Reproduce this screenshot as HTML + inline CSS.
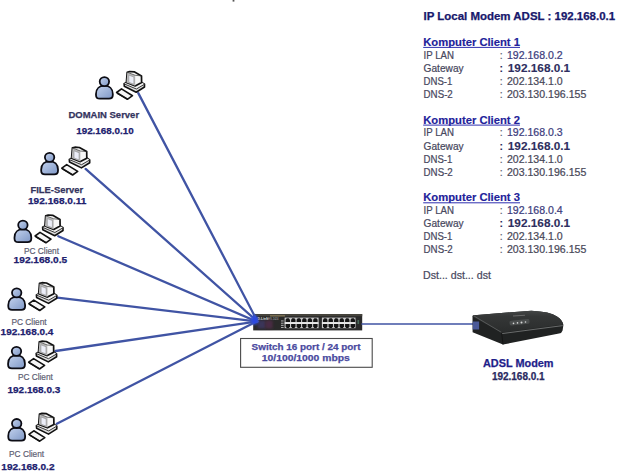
<!DOCTYPE html>
<html><head><meta charset="utf-8">
<style>
html,body{margin:0;padding:0;background:#fff;width:617px;height:474px;overflow:hidden}
svg{display:block}
text{font-family:"Liberation Sans",sans-serif}
</style></head><body>
<svg width="617" height="474" viewBox="0 0 617 474">
<defs>
<filter id="bl" x="-50%" y="-50%" width="200%" height="200%"><feGaussianBlur stdDeviation="1.2"/></filter>
<linearGradient id="pg" x1="0" y1="0" x2="1" y2="1">
<stop offset="0" stop-color="#c4d3ee"/><stop offset="1" stop-color="#7e97c6"/>
</linearGradient>
<linearGradient id="mt" x1="0" y1="0" x2="0" y2="1">
<stop offset="0" stop-color="#444646"/><stop offset="0.25" stop-color="#353737"/><stop offset="1" stop-color="#2a2c2c"/>
</linearGradient>
<g id="ic">
<path d="M0.4,22.2 C0.4,17 4,13.9 8.8,13.9 C13.6,13.9 17.2,17 17.2,22.2 L17.2,23.4 Q17.2,27 13.4,27 L4.2,27 Q0.4,27 0.4,23.4 Z" fill="url(#pg)" stroke="#0c0c14" stroke-width="1.8"/>
<ellipse cx="8.8" cy="9.9" rx="4.7" ry="4.5" fill="url(#pg)" stroke="#0c0c14" stroke-width="1.8"/>
<path d="M21,20.8 L25.9,17.2 L36.9,24 L31.8,27.6 Z" fill="#f6f6f6" stroke="#111" stroke-width="1.6" stroke-linejoin="round"/>
<path d="M21.7,21.7 L31.7,27.4" stroke="#111" stroke-width="1.1"/>
<path d="M28.5,12 L30.8,10.8 L46,10.6 L48.9,12.5 L48.9,15.3 L40.6,20.5 L28.7,14.6 Z" fill="#dcdcdc" stroke="#111" stroke-width="1.6" stroke-linejoin="round"/>
<path d="M28.6,12.1 L30.8,10.8 L39.6,14.2 L46,10.6 L48.8,12.5 L40.8,17.2 Z" fill="#f4f4f4"/>
<path d="M28.6,12.2 L40.8,17.3 L48.8,12.6" fill="none" stroke="#222" stroke-width="0.9"/>
<path d="M31.6,0.5 L34.1,-0.2 L38.6,0.1 L45.9,4.2 L46,10.8 L39.6,14.2 L30.8,10.8 Z" fill="#f7f7f7" stroke="#111" stroke-width="1.7" stroke-linejoin="round"/>
<path d="M31.7,0.8 L39.6,3.7 L39.6,14 L30.9,10.7 Z" fill="#b9b9b9"/>
<path d="M33.2,3.4 L38.3,5.3 L38.3,12.5 L33.2,10.6 Z" fill="#eceef8" stroke="#8c8c8c" stroke-width="0.6"/>
<path d="M31.8,0.6 L39.6,3.6 L45.8,4.2" fill="none" stroke="#333" stroke-width="0.7"/>
</g>
</defs>

<g>
<rect x="253.2" y="314" width="109" height="16.4" fill="#2a2a2a"/>
<rect x="253.2" y="314" width="109" height="2.2" fill="#45433c"/>
<rect x="270" y="315.4" width="15" height="1" fill="#9a8a60"/>
<rect x="284.6" y="317.6" width="34" height="10.6" fill="#c9c9c9"/>
<rect x="321.9" y="317.6" width="33.6" height="10.6" fill="#c9c9c9"/>
<rect x="284.6" y="322.4" width="34" height="1.4" fill="#f0f0f0"/>
<rect x="321.9" y="322.4" width="33.6" height="1.4" fill="#f0f0f0"/>
<g fill="#151515">
<path d="M286.70,318.20 L288.90,318.20 L290.00,319.70 L290.00,322.10 L285.60,322.10 L285.60,319.70 Z"/>
<path d="M285.60,324.10 L290.00,324.10 L290.00,326.50 L288.90,327.90 L286.70,327.90 L285.60,326.50 Z"/>
<path d="M292.22,318.20 L294.42,318.20 L295.52,319.70 L295.52,322.10 L291.12,322.10 L291.12,319.70 Z"/>
<path d="M291.12,324.10 L295.52,324.10 L295.52,326.50 L294.42,327.90 L292.22,327.90 L291.12,326.50 Z"/>
<path d="M297.74,318.20 L299.94,318.20 L301.04,319.70 L301.04,322.10 L296.64,322.10 L296.64,319.70 Z"/>
<path d="M296.64,324.10 L301.04,324.10 L301.04,326.50 L299.94,327.90 L297.74,327.90 L296.64,326.50 Z"/>
<path d="M303.26,318.20 L305.46,318.20 L306.56,319.70 L306.56,322.10 L302.16,322.10 L302.16,319.70 Z"/>
<path d="M302.16,324.10 L306.56,324.10 L306.56,326.50 L305.46,327.90 L303.26,327.90 L302.16,326.50 Z"/>
<path d="M308.78,318.20 L310.98,318.20 L312.08,319.70 L312.08,322.10 L307.68,322.10 L307.68,319.70 Z"/>
<path d="M307.68,324.10 L312.08,324.10 L312.08,326.50 L310.98,327.90 L308.78,327.90 L307.68,326.50 Z"/>
<path d="M314.30,318.20 L316.50,318.20 L317.60,319.70 L317.60,322.10 L313.20,322.10 L313.20,319.70 Z"/>
<path d="M313.20,324.10 L317.60,324.10 L317.60,326.50 L316.50,327.90 L314.30,327.90 L313.20,326.50 Z"/>
<path d="M324.10,318.20 L326.30,318.20 L327.40,319.70 L327.40,322.10 L323.00,322.10 L323.00,319.70 Z"/>
<path d="M323.00,324.10 L327.40,324.10 L327.40,326.50 L326.30,327.90 L324.10,327.90 L323.00,326.50 Z"/>
<path d="M329.62,318.20 L331.82,318.20 L332.92,319.70 L332.92,322.10 L328.52,322.10 L328.52,319.70 Z"/>
<path d="M328.52,324.10 L332.92,324.10 L332.92,326.50 L331.82,327.90 L329.62,327.90 L328.52,326.50 Z"/>
<path d="M335.14,318.20 L337.34,318.20 L338.44,319.70 L338.44,322.10 L334.04,322.10 L334.04,319.70 Z"/>
<path d="M334.04,324.10 L338.44,324.10 L338.44,326.50 L337.34,327.90 L335.14,327.90 L334.04,326.50 Z"/>
<path d="M340.66,318.20 L342.86,318.20 L343.96,319.70 L343.96,322.10 L339.56,322.10 L339.56,319.70 Z"/>
<path d="M339.56,324.10 L343.96,324.10 L343.96,326.50 L342.86,327.90 L340.66,327.90 L339.56,326.50 Z"/>
<path d="M346.18,318.20 L348.38,318.20 L349.48,319.70 L349.48,322.10 L345.08,322.10 L345.08,319.70 Z"/>
<path d="M345.08,324.10 L349.48,324.10 L349.48,326.50 L348.38,327.90 L346.18,327.90 L345.08,326.50 Z"/>
<path d="M351.70,318.20 L353.90,318.20 L355.00,319.70 L355.00,322.10 L350.60,322.10 L350.60,319.70 Z"/>
<path d="M350.60,324.10 L355.00,324.10 L355.00,326.50 L353.90,327.90 L351.70,327.90 L350.60,326.50 Z"/>
</g>
<g fill="#e6e6e6"><rect x="281" y="320.6" width="2.6" height="0.7"/><rect x="281" y="322.8" width="2.6" height="0.7"/><rect x="281" y="324.9" width="2.6" height="0.7"/><rect x="281" y="327" width="2.6" height="0.7"/></g>
<text x="257.5" y="320.2" font-size="3.4" font-weight="bold" fill="#e8e8e8">D-Link</text>
<text x="266.5" y="320.2" font-size="2.6" fill="#bbb">DES-1024</text>
<rect x="257.5" y="320.5" width="8" height="8" fill="#3a3458" filter="url(#bl)"/>
<rect x="265.5" y="320.5" width="7" height="8" fill="#4a2c44" filter="url(#bl)"/>
<rect x="357.5" y="320" width="1.6" height="4" fill="#4a6a5a"/>
</g>
<g stroke="#4054a4" stroke-width="2.3" fill="none" stroke-linecap="round">
<line x1="138.3" y1="93.1" x2="257.5" y2="321.5"/>
<line x1="85.6" y1="168.9" x2="257.5" y2="321.5"/>
<line x1="58.3" y1="236.2" x2="256.5" y2="321.5"/>
<line x1="57.3" y1="297.7" x2="256.5" y2="321.5"/>
<line x1="55.6" y1="351" x2="256.5" y2="321.5"/>
<line x1="56.8" y1="423.8" x2="256.5" y2="321.5"/>
<line x1="362" y1="324" x2="474" y2="324" stroke-width="1.6"/>
</g>
<ellipse cx="254.5" cy="320" rx="4" ry="5" fill="#2f4ee6" opacity="0.8" filter="url(#bl)"/>
<ellipse cx="254.8" cy="320.3" rx="2.2" ry="3" fill="#2c48e0" opacity="0.9"/>
<use href="#ic" transform="translate(95.6,71.7)"/>
<use href="#ic" transform="translate(40.8,147.4)"/>
<use href="#ic" transform="translate(14.1,215.2)"/>
<use href="#ic" transform="translate(7.9,282.9)"/>
<use href="#ic" transform="translate(7.7,341.4)"/>
<use href="#ic" transform="translate(7.9,413.6)"/>
<rect x="240.6" y="338.5" width="131.6" height="28.8" fill="#fff" stroke="#4a4a4a" stroke-width="1.1"/>
<text x="251.6" y="350" font-size="9.3" fill="#4a4aa0" font-weight="bold" stroke="#4a4aa0" stroke-width="0.25" textLength="108.9" lengthAdjust="spacingAndGlyphs">Switch 16 port / 24 port</text>
<text x="261.8" y="360.6" font-size="9.3" fill="#4a4aa0" font-weight="bold" stroke="#4a4aa0" stroke-width="0.25" textLength="88" lengthAdjust="spacingAndGlyphs">10/100/1000 mbps</text>
<g>
<path d="M472.5,316.5 Q472.6,315.3 474,315.2 L531.3,310.7 Q550,311.5 557,316.5 Q562.5,320 563.4,325 L562.6,330.4 Q561.8,333 559,333.6 L503,344.6 L472.6,332.2 Z" fill="#202222"/>
<path d="M472.5,316.5 Q472.6,315.3 474,315.2 L531.3,310.7 Q550,311.5 557,316.5 Q562.5,320 563.2,324.6 L501.5,332.6 Z" fill="url(#mt)"/>
<path d="M474,316 L501.5,332.4" stroke="#5a5c5c" stroke-width="0.9"/>
<path d="M502,333.6 L562.8,325.6" stroke="#6a6c6c" stroke-width="1"/>
<path d="M501.6,332.6 L503,344.6" stroke="#111" stroke-width="0.8"/>
<rect x="472.8" y="321.5" width="6.3" height="8" fill="#4b5a98"/>
<rect x="509.5" y="320" width="20" height="4.6" rx="1.5" fill="#4a4d4d" transform="rotate(-6 519 322)"/>
<g fill="#d8d8d8"><circle cx="513.5" cy="323.4" r="0.8"/><circle cx="517.5" cy="322.9" r="0.8"/><circle cx="521.5" cy="322.5" r="1"/><circle cx="525.5" cy="322" r="0.8"/></g>
<rect x="513" y="315.2" width="12" height="1" fill="#6a6a6a" transform="rotate(-4 519 315.7)"/>
</g>
<text x="68.4" y="117.8" font-size="9.7" fill="#34345e" font-weight="bold" stroke="#34345e" stroke-width="0.25" textLength="70.7" lengthAdjust="spacingAndGlyphs">DOMAIN Server</text>
<text x="76.2" y="134.4" font-size="9.8" fill="#20206e" font-weight="bold" stroke="#20206e" stroke-width="0.25" textLength="57.5" lengthAdjust="spacingAndGlyphs">192.168.0.10</text>
<text x="30.4" y="192.8" font-size="9.7" fill="#34345e" font-weight="bold" stroke="#34345e" stroke-width="0.25" textLength="52.8" lengthAdjust="spacingAndGlyphs">FILE-Server</text>
<text x="28" y="203.8" font-size="9.8" fill="#20206e" font-weight="bold" stroke="#20206e" stroke-width="0.25" textLength="58.4" lengthAdjust="spacingAndGlyphs">192.168.0.11</text>
<text x="13.6" y="263.3" font-size="9.8" fill="#20206e" font-weight="bold" stroke="#20206e" stroke-width="0.25" textLength="53.6" lengthAdjust="spacingAndGlyphs">192.168.0.5</text>
<text x="0.6" y="334.6" font-size="9.8" fill="#20206e" font-weight="bold" stroke="#20206e" stroke-width="0.25" textLength="52.8" lengthAdjust="spacingAndGlyphs">192.168.0.4</text>
<text x="7.5" y="392.5" font-size="9.8" fill="#20206e" font-weight="bold" stroke="#20206e" stroke-width="0.25" textLength="52.8" lengthAdjust="spacingAndGlyphs">192.168.0.3</text>
<text x="1.3" y="470.1" font-size="9.8" fill="#20206e" font-weight="bold" stroke="#20206e" stroke-width="0.25" textLength="53.2" lengthAdjust="spacingAndGlyphs">192.168.0.2</text>
<text x="24" y="254.0" font-size="9.9" fill="#5e5e72" stroke="#5e5e72" stroke-width="0.22" textLength="35" lengthAdjust="spacingAndGlyphs">PC Client</text>
<text x="11.4" y="325.2" font-size="9.9" fill="#5e5e72" stroke="#5e5e72" stroke-width="0.22" textLength="35.3" lengthAdjust="spacingAndGlyphs">PC Client</text>
<text x="17.9" y="380.2" font-size="9.9" fill="#5e5e72" stroke="#5e5e72" stroke-width="0.22" textLength="35" lengthAdjust="spacingAndGlyphs">PC Client</text>
<text x="9.1" y="456.5" font-size="9.9" fill="#5e5e72" stroke="#5e5e72" stroke-width="0.22" textLength="35" lengthAdjust="spacingAndGlyphs">PC Client</text>
<text x="483" y="367" font-size="10.0" fill="#1e1e8a" font-weight="bold" stroke="#1e1e8a" stroke-width="0.25" textLength="70.5" lengthAdjust="spacingAndGlyphs">ADSL Modem</text>
<text x="491.9" y="380" font-size="10.0" fill="#2a2a62" font-weight="bold" stroke="#2a2a62" stroke-width="0.25" textLength="52.7" lengthAdjust="spacingAndGlyphs">192.168.0.1</text>
<text x="423.5" y="20.3" font-size="10.2" fill="#18186c" font-weight="bold" stroke="#18186c" stroke-width="0.25" textLength="191.6" lengthAdjust="spacingAndGlyphs">IP Local Modem ADSL : 192.168.0.1</text>
<text x="423.2" y="45.8" font-size="10.5" fill="#22229a" font-weight="bold" stroke="#22229a" stroke-width="0.15" textLength="96.8" lengthAdjust="spacingAndGlyphs">Komputer Client 1</text>
<rect x="423.2" y="46.9" width="96.8" height="1" fill="#3030b0"/>
<text x="423.6" y="58.7" font-size="10.5" fill="#48485e" stroke="#48485e" stroke-width="0.22" textLength="30.4" lengthAdjust="spacingAndGlyphs">IP LAN</text>
<text x="499.8" y="58.7" font-size="10.5" fill="#606070" stroke="#606070" stroke-width="0.22">:</text>
<text x="506.9" y="58.7" font-size="10.5" fill="#3c3c7c" stroke="#3c3c7c" stroke-width="0.22" textLength="55.8" lengthAdjust="spacingAndGlyphs">192.168.0.2</text>
<text x="423.6" y="71.8" font-size="10.5" fill="#48485e" stroke="#48485e" stroke-width="0.22" textLength="40" lengthAdjust="spacingAndGlyphs">Gateway</text>
<text x="499.6" y="71.8" font-size="10.5" fill="#2a2a5a" font-weight="bold" stroke="#2a2a5a" stroke-width="0.1">:</text>
<text x="507.8" y="71.8" font-size="10.3" fill="#2e2e60" font-weight="bold" stroke="#2e2e60" stroke-width="0.1" textLength="62.4" lengthAdjust="spacingAndGlyphs">192.168.0.1</text>
<text x="423.6" y="84.9" font-size="10.5" fill="#48485e" stroke="#48485e" stroke-width="0.22" textLength="28.8" lengthAdjust="spacingAndGlyphs">DNS-1</text>
<text x="499.8" y="84.9" font-size="10.5" fill="#606070" stroke="#606070" stroke-width="0.22">:</text>
<text x="506.9" y="84.9" font-size="10.5" fill="#484858" stroke="#484858" stroke-width="0.22" textLength="55.8" lengthAdjust="spacingAndGlyphs">202.134.1.0</text>
<text x="423.6" y="97.9" font-size="10.5" fill="#48485e" stroke="#48485e" stroke-width="0.22" textLength="29.2" lengthAdjust="spacingAndGlyphs">DNS-2</text>
<text x="499.8" y="97.9" font-size="10.5" fill="#606070" stroke="#606070" stroke-width="0.22">:</text>
<text x="506.9" y="97.9" font-size="10.5" fill="#484858" stroke="#484858" stroke-width="0.22" textLength="79.4" lengthAdjust="spacingAndGlyphs">203.130.196.155</text>
<text x="423.2" y="123.5" font-size="10.5" fill="#22229a" font-weight="bold" stroke="#22229a" stroke-width="0.15" textLength="96.8" lengthAdjust="spacingAndGlyphs">Komputer Client 2</text>
<rect x="423.2" y="124.6" width="96.8" height="1" fill="#3030b0"/>
<text x="423.6" y="136.4" font-size="10.5" fill="#48485e" stroke="#48485e" stroke-width="0.22" textLength="30.4" lengthAdjust="spacingAndGlyphs">IP LAN</text>
<text x="499.8" y="136.4" font-size="10.5" fill="#606070" stroke="#606070" stroke-width="0.22">:</text>
<text x="506.9" y="136.4" font-size="10.5" fill="#3c3c7c" stroke="#3c3c7c" stroke-width="0.22" textLength="55.8" lengthAdjust="spacingAndGlyphs">192.168.0.3</text>
<text x="423.6" y="149.5" font-size="10.5" fill="#48485e" stroke="#48485e" stroke-width="0.22" textLength="40" lengthAdjust="spacingAndGlyphs">Gateway</text>
<text x="499.6" y="149.5" font-size="10.5" fill="#2a2a5a" font-weight="bold" stroke="#2a2a5a" stroke-width="0.1">:</text>
<text x="507.8" y="149.5" font-size="10.3" fill="#2e2e60" font-weight="bold" stroke="#2e2e60" stroke-width="0.1" textLength="62.4" lengthAdjust="spacingAndGlyphs">192.168.0.1</text>
<text x="423.6" y="162.6" font-size="10.5" fill="#48485e" stroke="#48485e" stroke-width="0.22" textLength="28.8" lengthAdjust="spacingAndGlyphs">DNS-1</text>
<text x="499.8" y="162.6" font-size="10.5" fill="#606070" stroke="#606070" stroke-width="0.22">:</text>
<text x="506.9" y="162.6" font-size="10.5" fill="#484858" stroke="#484858" stroke-width="0.22" textLength="55.8" lengthAdjust="spacingAndGlyphs">202.134.1.0</text>
<text x="423.6" y="175.6" font-size="10.5" fill="#48485e" stroke="#48485e" stroke-width="0.22" textLength="29.2" lengthAdjust="spacingAndGlyphs">DNS-2</text>
<text x="499.8" y="175.6" font-size="10.5" fill="#606070" stroke="#606070" stroke-width="0.22">:</text>
<text x="506.9" y="175.6" font-size="10.5" fill="#484858" stroke="#484858" stroke-width="0.22" textLength="79.4" lengthAdjust="spacingAndGlyphs">203.130.196.155</text>
<text x="423.2" y="201.2" font-size="10.5" fill="#22229a" font-weight="bold" stroke="#22229a" stroke-width="0.15" textLength="96.8" lengthAdjust="spacingAndGlyphs">Komputer Client 3</text>
<rect x="423.2" y="202.29999999999998" width="96.8" height="1" fill="#3030b0"/>
<text x="423.6" y="214.1" font-size="10.5" fill="#48485e" stroke="#48485e" stroke-width="0.22" textLength="30.4" lengthAdjust="spacingAndGlyphs">IP LAN</text>
<text x="499.8" y="214.1" font-size="10.5" fill="#606070" stroke="#606070" stroke-width="0.22">:</text>
<text x="506.9" y="214.1" font-size="10.5" fill="#3c3c7c" stroke="#3c3c7c" stroke-width="0.22" textLength="55.8" lengthAdjust="spacingAndGlyphs">192.168.0.4</text>
<text x="423.6" y="227.2" font-size="10.5" fill="#48485e" stroke="#48485e" stroke-width="0.22" textLength="40" lengthAdjust="spacingAndGlyphs">Gateway</text>
<text x="499.6" y="227.2" font-size="10.5" fill="#2a2a5a" font-weight="bold" stroke="#2a2a5a" stroke-width="0.1">:</text>
<text x="507.8" y="227.2" font-size="10.3" fill="#2e2e60" font-weight="bold" stroke="#2e2e60" stroke-width="0.1" textLength="62.4" lengthAdjust="spacingAndGlyphs">192.168.0.1</text>
<text x="423.6" y="240.3" font-size="10.5" fill="#48485e" stroke="#48485e" stroke-width="0.22" textLength="28.8" lengthAdjust="spacingAndGlyphs">DNS-1</text>
<text x="499.8" y="240.3" font-size="10.5" fill="#606070" stroke="#606070" stroke-width="0.22">:</text>
<text x="506.9" y="240.3" font-size="10.5" fill="#484858" stroke="#484858" stroke-width="0.22" textLength="55.8" lengthAdjust="spacingAndGlyphs">202.134.1.0</text>
<text x="423.6" y="253.3" font-size="10.5" fill="#48485e" stroke="#48485e" stroke-width="0.22" textLength="29.2" lengthAdjust="spacingAndGlyphs">DNS-2</text>
<text x="499.8" y="253.3" font-size="10.5" fill="#606070" stroke="#606070" stroke-width="0.22">:</text>
<text x="506.9" y="253.3" font-size="10.5" fill="#484858" stroke="#484858" stroke-width="0.22" textLength="79.4" lengthAdjust="spacingAndGlyphs">203.130.196.155</text>
<text x="423" y="279.2" font-size="10.5" fill="#48485e" stroke="#48485e" stroke-width="0.22" textLength="67.9" lengthAdjust="spacingAndGlyphs">Dst... dst... dst</text>
<rect x="232.6" y="0" width="1.8" height="1.6" fill="#555"/>
</svg>
</body></html>
